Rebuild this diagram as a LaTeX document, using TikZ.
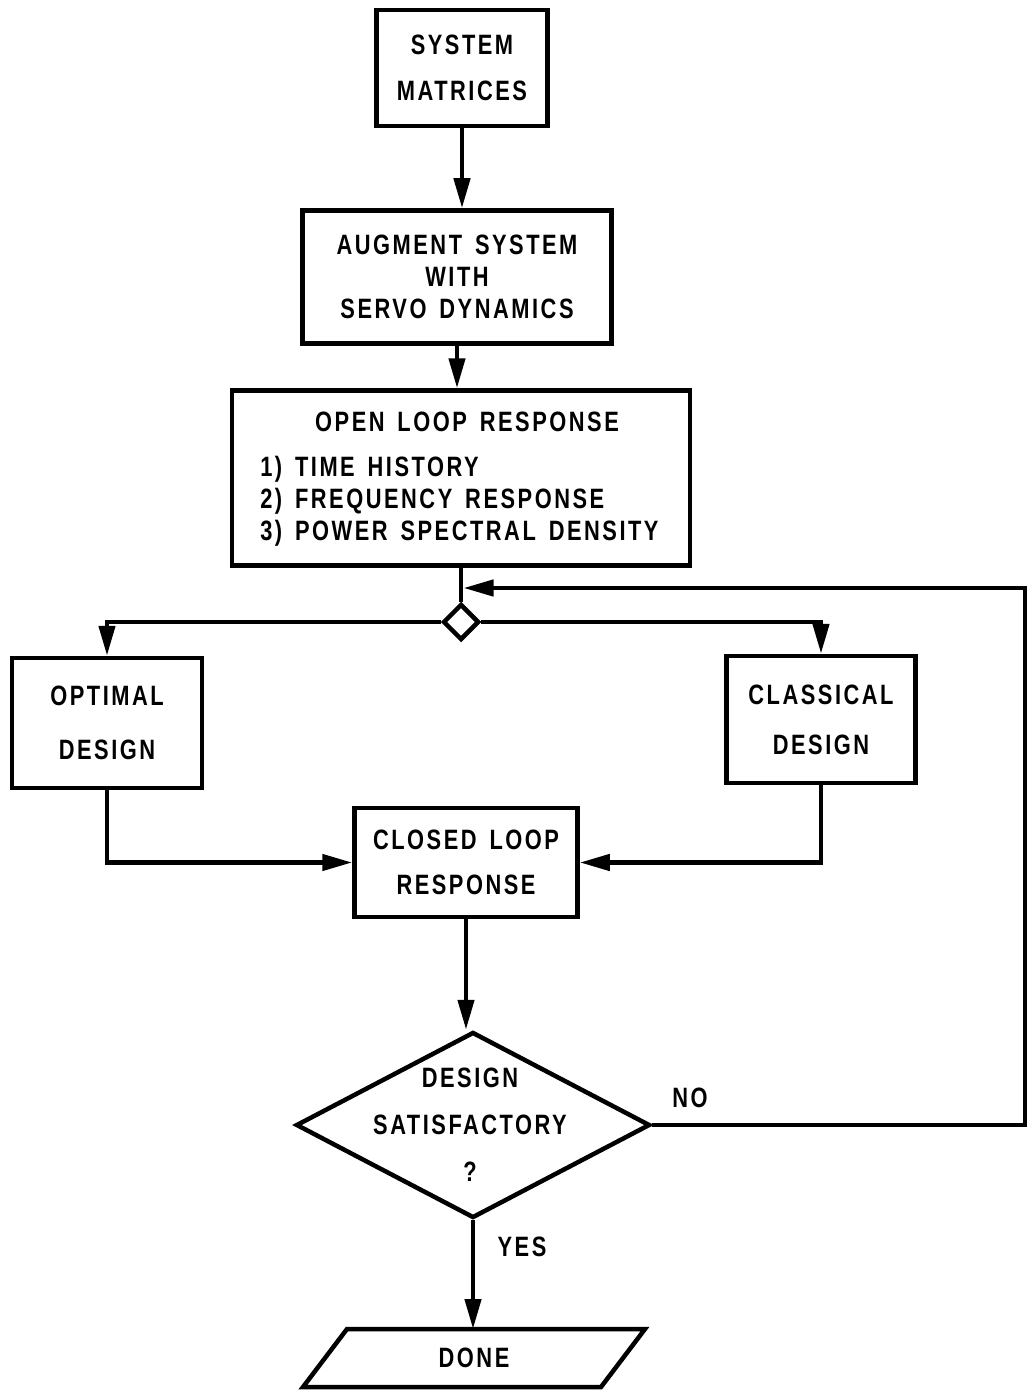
\documentclass[tikz,border=0pt]{standalone}
\usepackage{fontspec}
\setmainfont{Liberation Sans}[FakeStretch=0.78, LetterSpace=9, WordSpace=1.5]
\usetikzlibrary{arrows.meta,shapes.geometric}

\begin{document}
\begin{tikzpicture}[x=1pt,y=-1pt,
  line width=4.5pt,
  lett/.style={font={\bfseries\fontsize{28}{#1}\selectfont}},
  box/.style={draw, rectangle, inner sep=0pt, align=center},
  txt/.style={inner sep=0pt, align=center},
  flow/.style={-{Triangle[length=30pt,width=16pt]}},
]
\fill[white] (0,0) rectangle (1030,1391);
\useasboundingbox (0,0) rectangle (1030,1391);

% process boxes
\node[box, lett=46, minimum width=171pt, minimum height=116pt] (sys) at (462,68) {SYSTEM\\MATRICES};
\node[box, lett=32, minimum width=309pt, minimum height=133pt] (aug) at (457,277) {AUGMENT SYSTEM\\WITH\\SERVO DYNAMICS};
\node[box, minimum width=458pt, minimum height=175pt] (open) at (461,478) {};
\node[txt, lett=32] (opentitle) at (467,422) {OPEN LOOP RESPONSE};
\node[txt, lett=32, align=left, anchor=west] (openlist) at (258,501)
  {1)\ TIME HISTORY\\2)\ FREQUENCY RESPONSE\\3)\ POWER SPECTRAL DENSITY};

\node[draw, diamond, minimum width=36pt, minimum height=36pt, inner sep=0pt] (split) at (461,622) {};

\node[box, lett=54, minimum width=190pt, minimum height=130pt] (opt) at (107,723) {OPTIMAL\\DESIGN};
\node[box, lett=50, minimum width=189pt, minimum height=127pt] (cls) at (821,719.5) {CLASSICAL\\DESIGN};
\node[box, lett=45, minimum width=223pt, minimum height=109pt] (cl) at (466,862.5) {CLOSED LOOP\\RESPONSE};

% decision
\node[draw, diamond, minimum width=354pt, minimum height=186pt, inner sep=0pt] (dec) at (473,1125) {};
\node[txt, lett=47] (dectxt) at (470,1125) {DESIGN\\SATISFACTORY\\?};

% terminator: slanted box around the label
\node[txt, lett=32, minimum width=298pt, minimum height=58pt, outer sep=0pt] (done) at (474,1358) {DONE};
\draw ([xshift=22pt]done.north west) -- ([xshift=22pt]done.north east)
   -- ([xshift=-22pt]done.south east) -- ([xshift=-22pt]done.south west) -- cycle;

% branch labels
\node[txt, lett=32] (no) at (690,1098) {NO};
\node[txt, lett=32] (yes) at (522,1247) {YES};

% connectors
\draw[flow] (sys.south) -- (sys.south |- aug.north);
\draw[flow] (aug.south) -- (aug.south |- open.north);
\draw (open.south) -- (split.north);
\draw[flow] (split.west) -| (opt.north);
\draw[flow] (split.east) -| (cls.north);
\draw[flow] (opt.south) |- (cl.west);
\draw[flow] (cls.south) |- (cl.east);
\draw[flow] (cl.south) -- (cl.south |- dec.north);
\draw[flow] (dec.south) -- (dec.south |- done.north);

\coordinate (fbT) at (1025,588);
\coordinate (fbE) at (463.5,588);
\draw[flow] (dec.east) -- (dec.east -| fbT) -- (fbT) -- (fbE);
\end{tikzpicture}
\end{document}
